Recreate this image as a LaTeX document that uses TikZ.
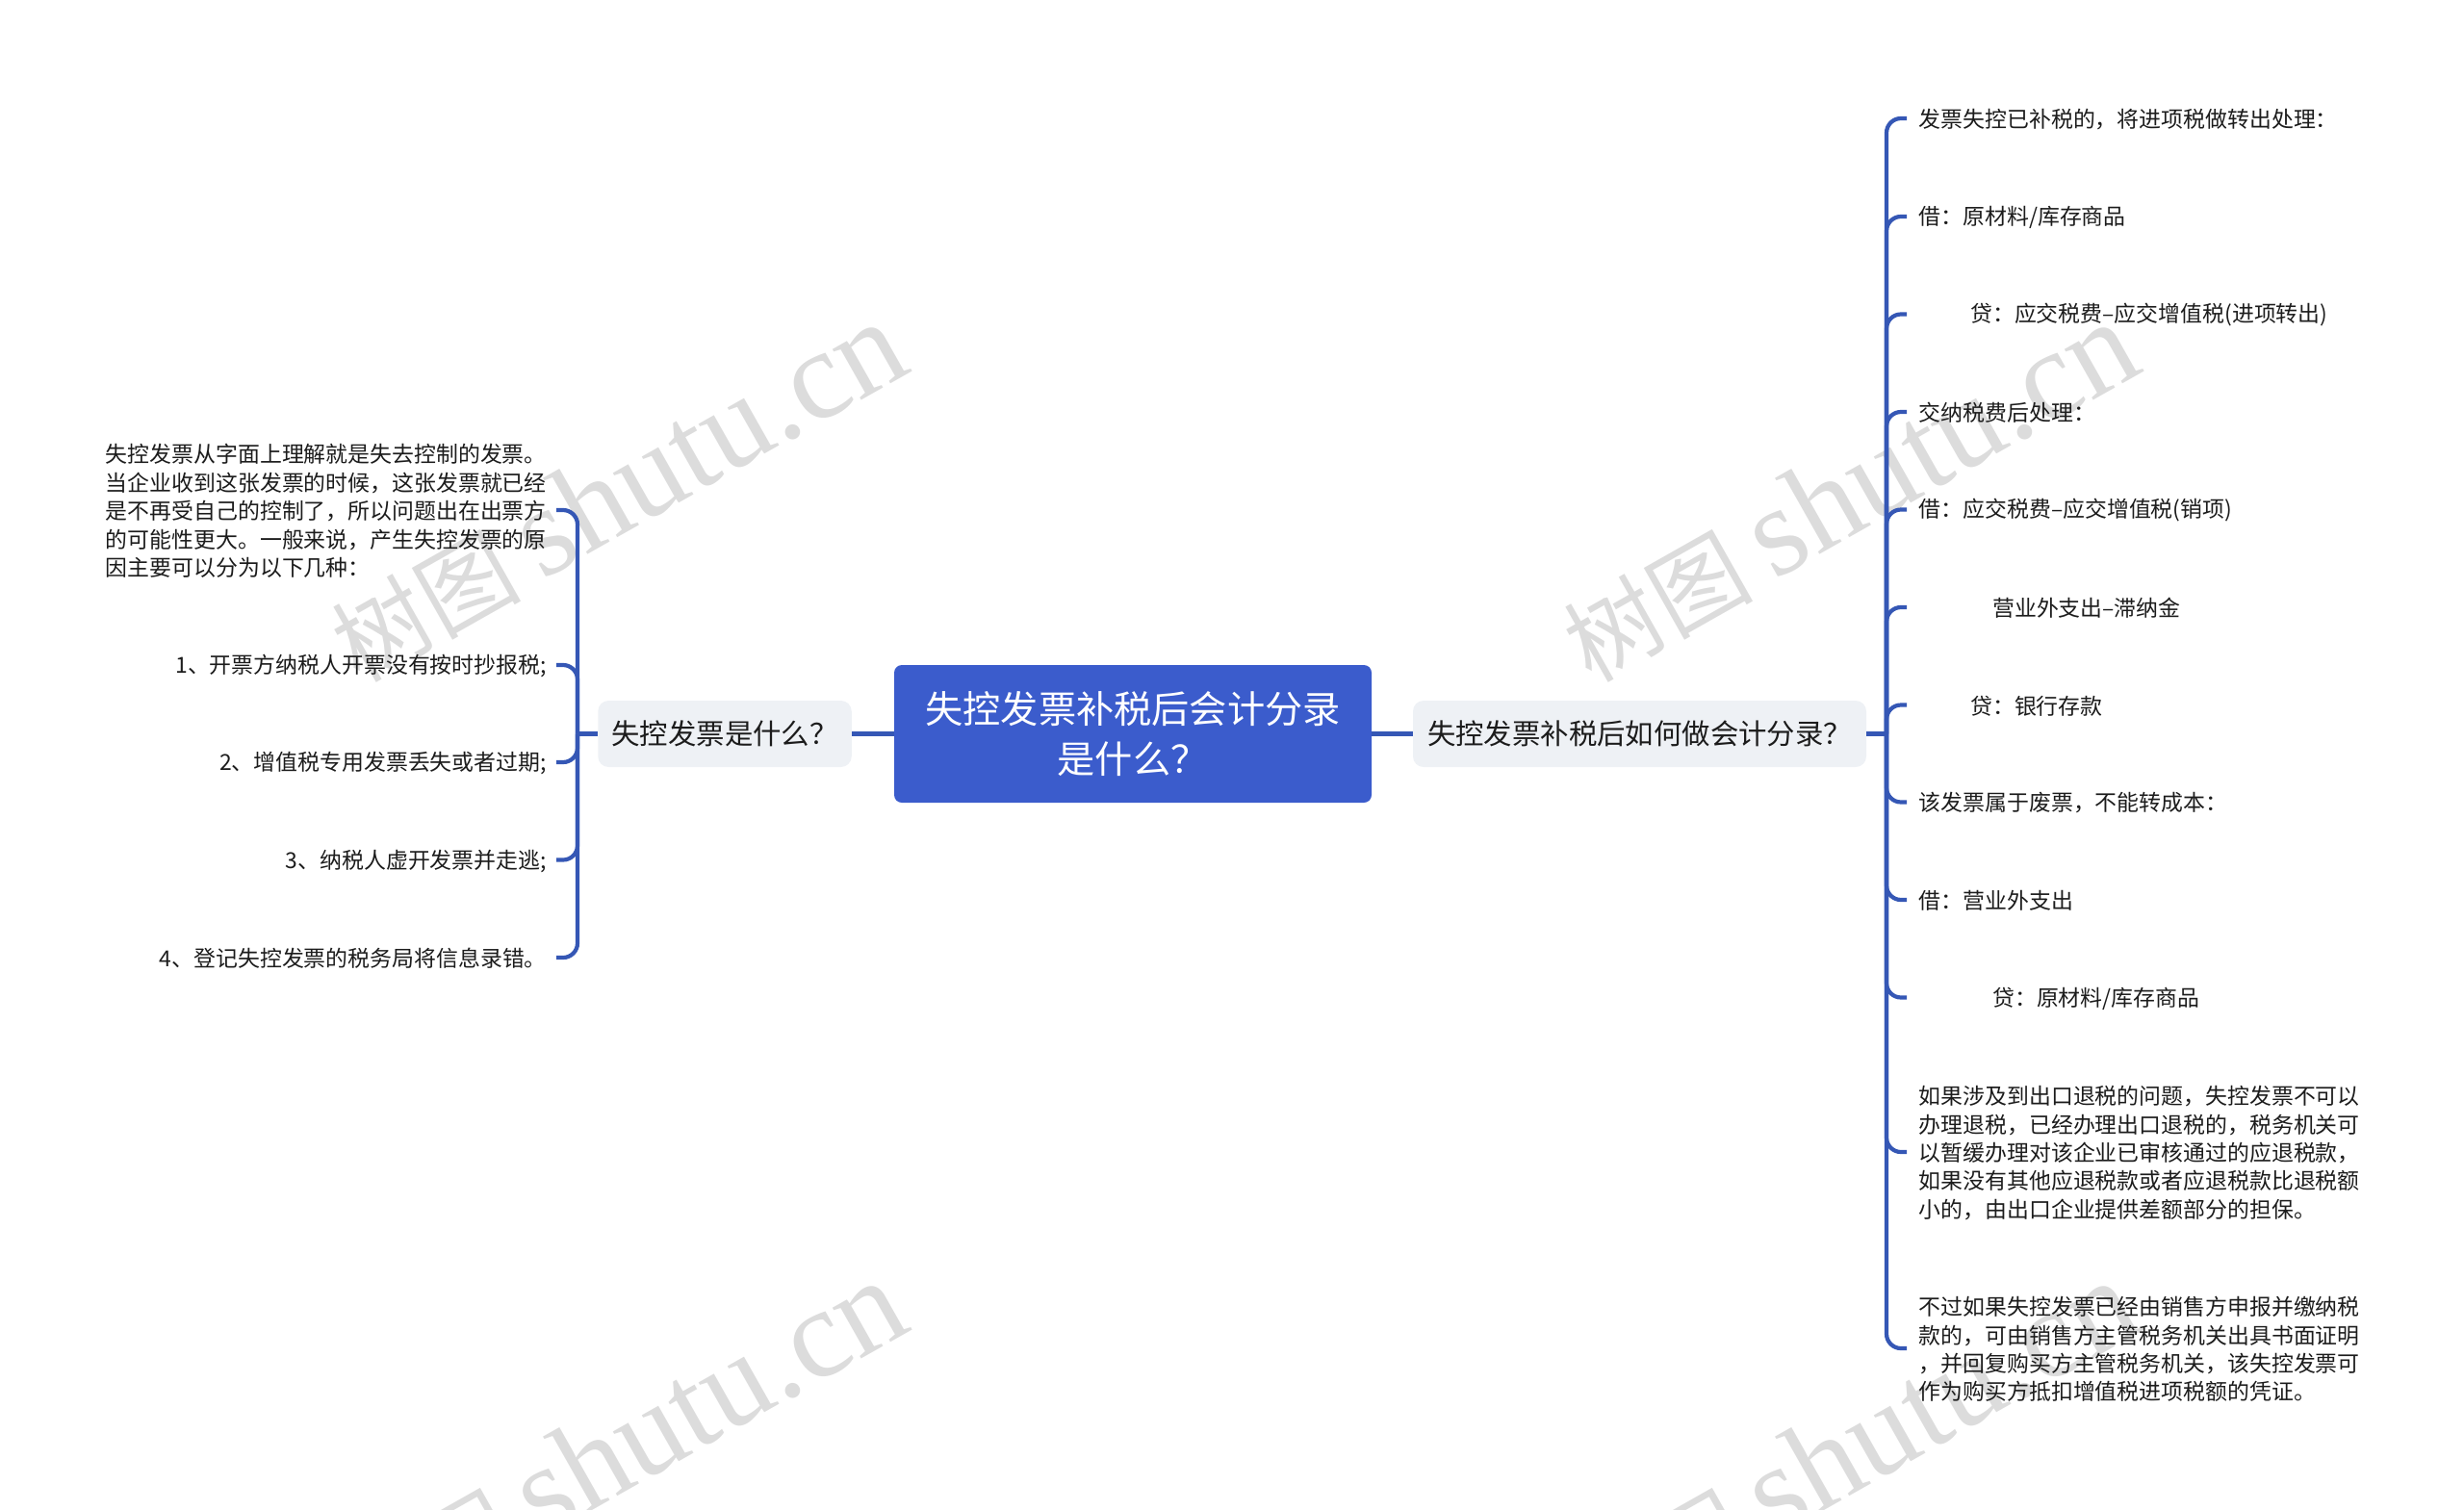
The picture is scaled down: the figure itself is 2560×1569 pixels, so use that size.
\documentclass[tikz,border=0pt]{standalone}
\usepackage{fontspec}
\setmainfont{Noto Sans CJK SC}
\newfontfamily\markfont{Liberation Serif}

\definecolor{linkblue}{HTML}{3557B5}
\definecolor{mainblue}{HTML}{3B5CCC}
\definecolor{branchgray}{HTML}{EEF1F5}
\definecolor{markgray}{HTML}{DCDCDC}
\definecolor{textdark}{HTML}{1C1C1C}

\tikzset{
  mainbox/.style={fill=mainblue, rounded corners=8pt, text=white, align=center, minimum width=496pt, minimum height=143pt, inner sep=0pt, font=\fontsize{39.2}{52}\selectfont},
  branchbox/.style={fill=branchgray, rounded corners=11pt, text=textdark, minimum height=69pt, inner sep=0pt, font=\fontsize{29.4}{36}\selectfont},
  rightleaf/.style={anchor=west, align=left, text=textdark, inner xsep=12.5pt, inner ysep=0pt, yshift=-1pt, font=\fontsize{22.9}{29.4}\selectfont},
  leftleaf/.style={anchor=east, align=left, text=textdark, inner xsep=10pt, inner ysep=0pt, yshift=-1pt, font=\fontsize{22.9}{29.4}\selectfont},
  linkline/.style={draw=linkblue, line width=4.2pt},
  spineline/.style={linkline, rounded corners=15pt},
  watermark/.style={text=markgray, rotate=29.5, inner sep=0pt, font=\fontsize{98}{120}\selectfont}
}
\newcommand{\marktext}{树图 {\markfont\fontsize{132}{120}\selectfont shutu.cn}}

\begin{document}
\begin{tikzpicture}[x=1pt, y=-1pt]
        \useasboundingbox (0,0) rectangle (2560,1569);
        \clip (0,0) rectangle (2560,1569);

        % Watermarks
        \node[watermark] (markA) at (641,511) {\marktext};
        \node[watermark] (markB) at (1921,511) {\marktext};
        \node[watermark] (markC) at (641,1507) {\marktext};
        \node[watermark] (markD) at (1921,1507) {\marktext};

        % Centre and branches
        \node[mainbox] (main) at (1177,762.5) {失控发票补税后会计分录\\是什么？};
        \node[branchbox, minimum width=263.5pt] (branchL) at (753,762.5) {失控发票是什么？};
        \node[branchbox, minimum width=471pt] (branchR) at (1703.5,762.5) {失控发票补税后如何做会计分录？};
        \coordinate (hubL) at (600,762.5);
        \coordinate (hubR) at (1960,762.5);

        % Left leaves
        \node[leftleaf] (whatA) at (578,530) {失控发票从字面上理解就是失去控制的发票。\\当企业收到这张发票的时候，这张发票就已经\\是不再受自己的控制了，所以问题出在出票方\\的可能性更大。一般来说，产生失控发票的原\\因主要可以分为以下几种：};
        \node[leftleaf] (whatB) at (578,691) {1、开票方纳税人开票没有按时抄报税;};
        \node[leftleaf] (whatC) at (578,792) {2、增值税专用发票丢失或者过期;};
        \node[leftleaf] (whatD) at (578,893.5) {3、纳税人虚开发票并走逃;};
        \node[leftleaf] (whatE) at (578,995) {4、登记失控发票的税务局将信息录错。};

        % Right leaves
        \node[rightleaf] (howA) at (1981,123) {发票失控已补税的，将进项税做转出处理：};
        \node[rightleaf] (howB) at (1981,225) {借：原材料/库存商品};
        \node[rightleaf] (howC) at (1981,326.5) {\hspace*{53.5pt}贷：应交税费–应交增值税(进项转出)};
        \node[rightleaf] (howD) at (1981,428) {交纳税费后处理：};
        \node[rightleaf] (howE) at (1981,529.5) {借：应交税费–应交增值税(销项)};
        \node[rightleaf] (howF) at (1981,631) {\hspace*{76.5pt}营业外支出–滞纳金};
        \node[rightleaf] (howG) at (1981,732.5) {\hspace*{53.5pt}贷：银行存款};
        \node[rightleaf] (howH) at (1981,833.5) {该发票属于废票，不能转成本：};
        \node[rightleaf] (howI) at (1981,935) {借：营业外支出};
        \node[rightleaf] (howJ) at (1981,1036.5) {\hspace*{76.5pt}贷：原材料/库存商品};
        \node[rightleaf] (howK) at (1981,1197) {如果涉及到出口退税的问题，失控发票不可以\\办理退税，已经办理出口退税的，税务机关可\\以暂缓办理对该企业已审核通过的应退税款，\\如果没有其他应退税款或者应退税款比退税额\\小的，由出口企业提供差额部分的担保。};
        \node[rightleaf] (howL) at (1981,1401) {不过如果失控发票已经由销售方申报并缴纳税\\款的，可由销售方主管税务机关出具书面证明\\，并回复购买方主管税务机关，该失控发票可\\作为购买方抵扣增值税进项税额的凭证。};

        % Links between boxes
        \draw[linkline] (main.west) -- (branchL.east);
        \draw[linkline] (main.east) -- (branchR.west);
        \draw[linkline] (branchL.west) -- (hubL);
        \draw[linkline] (branchR.east) -- (hubR);

        % Left spine
        \draw[spineline] (hubL) |- ([yshift=1pt]whatA.east);
        \draw[spineline] (hubL) |- ([yshift=1pt]whatB.east);
        \draw[spineline] (hubL) |- ([yshift=1pt]whatC.east);
        \draw[spineline] (hubL) |- ([yshift=1pt]whatD.east);
        \draw[spineline] (hubL) |- ([yshift=1pt]whatE.east);

        % Right spine
        \draw[spineline] (hubR) |- ([yshift=1pt]howA.west);
        \draw[spineline] (hubR) |- ([yshift=1pt]howB.west);
        \draw[spineline] (hubR) |- ([yshift=1pt]howC.west);
        \draw[spineline] (hubR) |- ([yshift=1pt]howD.west);
        \draw[spineline] (hubR) |- ([yshift=1pt]howE.west);
        \draw[spineline] (hubR) |- ([yshift=1pt]howF.west);
        \draw[spineline] (hubR) |- ([yshift=1pt]howG.west);
        \draw[spineline] (hubR) |- ([yshift=1pt]howH.west);
        \draw[spineline] (hubR) |- ([yshift=1pt]howI.west);
        \draw[spineline] (hubR) |- ([yshift=1pt]howJ.west);
        \draw[spineline] (hubR) |- ([yshift=1pt]howK.west);
        \draw[spineline] (hubR) |- ([yshift=1pt]howL.west);
\end{tikzpicture}
\end{document}
